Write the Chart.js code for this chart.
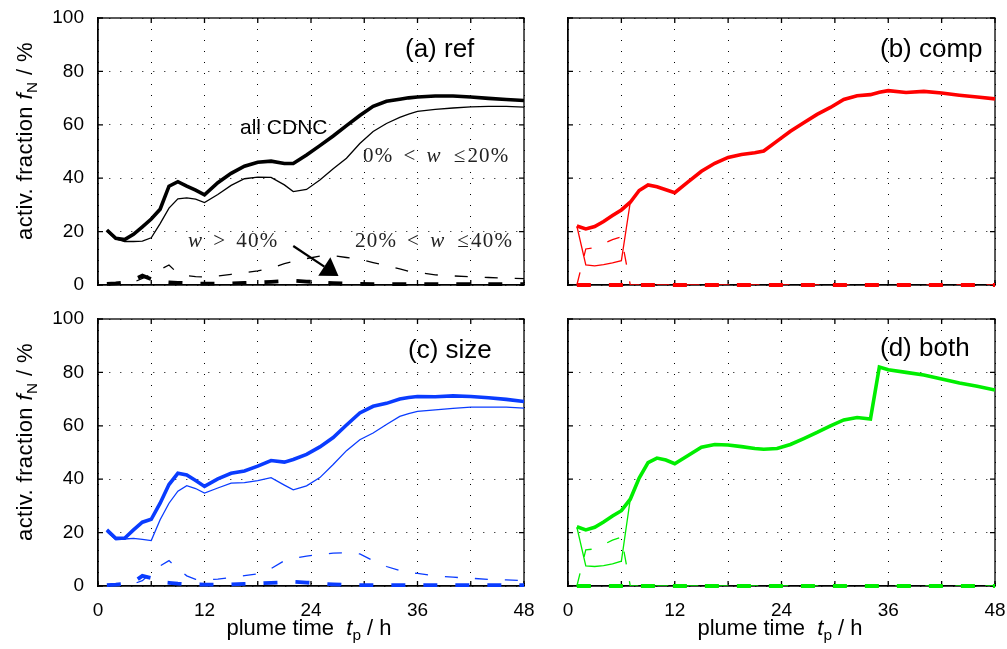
<!DOCTYPE html>
<html>
<head>
<meta charset="utf-8">
<script src="https://cdn.jsdelivr.net/npm/chart.js@4.4.0/dist/chart.umd.min.js"></script>
<style>
  body { margin: 0; background: #fff; }
  #wrap { position: relative; width: 1007px; height: 649px; overflow: hidden;
          font-family: "Liberation Sans", Arial, sans-serif; color: #000; }
  #wrap canvas { position: absolute; left: 0; top: 0; }
  .lbl { position: absolute; white-space: nowrap; line-height: 1; }
  .math { font-family: "Liberation Serif", "DejaVu Serif", serif; font-size: 21px; letter-spacing: 1.2px; color: #222; }
  .math .rel { margin: 0 10px; }
  .math .le { margin: 0 1px 0 12px; }
  .ytitle { font-size: 22px; letter-spacing: 0.4px; transform: translate(-50%, -50%) rotate(-90deg); }
  .xtitle { font-size: 22px; transform: translate(-50%, -50%); }
  .panel { font-size: 26px; transform: translateY(-50%); }
  sub { font-size: 70%; vertical-align: -0.35em; }
</style>
</head>
<body>
<div id="wrap">
  <canvas id="cA" width="1007" height="649"></canvas>
  <canvas id="cB" width="1007" height="649"></canvas>
  <canvas id="cC" width="1007" height="649"></canvas>
  <canvas id="cD" width="1007" height="649"></canvas>

  <div class="lbl ytitle" style="left:27px;top:141px;">activ. fraction <i>f</i><sub>N</sub> / %</div>
  <div class="lbl ytitle" style="left:27px;top:442px;">activ. fraction <i>f</i><sub>N</sub> / %</div>
  <div class="lbl xtitle" style="left:309px;top:630px;">plume time&nbsp; <i>t</i><sub>p</sub> / h</div>
  <div class="lbl xtitle" style="left:780px;top:630px;">plume time&nbsp; <i>t</i><sub>p</sub> / h</div>

  <div class="lbl panel" style="left:405px;top:48px;">(a) ref</div>
  <div class="lbl panel" style="left:880px;top:48px;">(b) comp</div>
  <div class="lbl panel" style="left:408px;top:349px;">(c) size</div>
  <div class="lbl panel" style="left:880px;top:347px;">(d) both</div>

  <div class="lbl" style="left:240px;top:116px;font-size:21px;">all CDNC</div>
  <div class="lbl math" style="left:363px;top:145px;">0%<span class="rel">&lt;</span><i>w</i><span class="le">≤</span>20%</div>
  <div class="lbl math" style="left:188px;top:230px;"><i>w</i><span class="rel">&gt;</span>40%</div>
  <div class="lbl math" style="left:355px;top:230px;">20%<span class="rel">&lt;</span><i>w</i><span class="le">≤</span>40%</div>
</div>

<script>
const T = [1, 2, 3, 4, 5, 6, 7, 8, 9, 10, 11, 12, 13.5, 15, 16.5, 18, 19.5, 21, 22, 23.5,
           25, 26.5, 28, 29.5, 31, 32.5, 34, 35, 36, 38, 40, 42, 44, 46, 48];

const xTicks = [0, 12, 24, 36, 48];
const yTicks = [0, 20, 40, 60, 80, 100];

// (a) ref
const refAll = [20.6, 17.5, 17, 19, 21.8, 24.7, 28.4, 37, 38.7, 37, 35.5, 33.8, 38.3, 41.8, 44.5, 46, 46.4, 45.5, 45.5, 48.7,
                52.2, 55.8, 59.7, 63.5, 66.9, 68.8, 69.6, 70.1, 70.4, 70.8, 70.8, 70.4, 69.9, 69.5, 69.1];
const refW1 = [20, 17.3, 16.3, 16.3, 16.4, 17.7, 23, 28.8, 32.3, 32.6, 32.2, 30.9, 33.9, 37.3, 39.8, 40.4, 40.3, 37.5, 35, 35.8,
               39.3, 43.5, 47.5, 53, 57.5, 60.5, 62.8, 64, 65, 65.8, 66.3, 66.7, 66.9, 66.9, 66.6];
const refW2 = [0, 0.3, 0.6, 1, 2.5, 4, 5.8, 7.5, 4.3, 3.5, 3.1, 3, 3.4, 4, 4.6, 5.3, 6.3, 8, 8.8, 9.9,
               10.8, 11, 10.3, 9.6, 8.4, 7.3, 6, 5.1, 4.7, 3.8, 3.4, 3.1, 2.8, 2.6, 2.4];
const refW3 = [0.4, 0.6, 1, 2, 3.5, 2.2, 1.2, 1, 0.8, 0.7, 0.6, 0.5, 0.5, 0.6, 0.8, 1, 1.2, 1.5, 1.6, 1.3,
               1, 0.7, 0.5, 0.4, 0.3, 0.3, 0.3, 0.3, 0.3, 0.3, 0.3, 0.3, 0.3, 0.3, 0.3];

// (b) comp
const compAll = [22.1, 21, 21.9, 23.8, 26, 28.1, 31, 35.4, 37.5, 36.8, 35.7, 34.6, 38.6, 42.6, 45.6, 47.8, 48.9, 49.5, 50.2, 53.9,
                 57.6, 60.8, 63.9, 66.5, 69.5, 70.9, 71.3, 72.2, 72.8, 72.1, 72.5, 71.9, 71.1, 70.4, 69.7];
const compW1 = [22, 7.5, 7.2, 7.6, 8.3, 9.1].concat(compAll.slice(6));
const compW2 = [0, 13.5, 14, 15.5, 17, 18, 0, 0, 0, 0, 0, 0, 0, 0, 0, 0, 0, 0, 0, 0,
                0, 0, 0, 0, 0, 0, 0, 0, 0, 0, 0, 0, 0, 0, 0];
const compW3 = [0, 0, 0, 0, 0, 0, 0, 0, 0, 0, 0, 0, 0, 0, 0, 0, 0, 0, 0, 0,
                0, 0, 0, 0, 0, 0, 0, 0, 0, 0, 0, 0, 0, 0, 0];

// (c) size
const sizeAll = [21, 17.9, 17.9, 21, 23.9, 25, 31, 38, 42.2, 41.6, 39.5, 37.3, 40.1, 42.2, 43.1, 44.9, 47, 46.4, 47.4, 49.3,
                 52.1, 55.6, 60.3, 64.8, 67.3, 68.4, 70, 70.6, 71, 70.9, 71.2, 71, 70.5, 69.9, 69.1];
const sizeW1 = [20.3, 17.3, 17.6, 17.8, 17.5, 17, 24.8, 31, 35.5, 37.6, 36.5, 34.8, 36.7, 38.5, 38.7, 39.5, 40.6, 37.8, 36, 37.5,
                40.6, 45.5, 50.7, 54.8, 57.3, 60.5, 63.5, 64.6, 65.4, 66, 66.5, 67, 67, 67, 66.6];
const sizeW2 = [0, 0.2, 0.5, 0.8, 2, 5, 7.5, 9.5, 6.5, 3.8, 2.5, 2.3, 2.6, 3.2, 3.9, 4.5, 6.5, 9.5, 10.3, 11.2,
                11.8, 12.3, 12.5, 12, 9.5, 7.3, 5.8, 5, 4.7, 3.8, 3.3, 2.9, 2.5, 2.3, 2];
const sizeW3 = [0.3, 0.5, 0.8, 1.5, 3.8, 3, 1.5, 1.2, 0.9, 0.7, 0.6, 0.5, 0.5, 0.6, 0.8, 1, 1.2, 1.4, 1.6, 1.3,
                0.9, 0.6, 0.4, 0.3, 0.3, 0.3, 0.3, 0.3, 0.3, 0.3, 0.3, 0.3, 0.3, 0.3, 0.3];

// (d) both
const bothAll = [22.2, 21, 22, 24, 26.2, 28.2, 32.5, 40.4, 46.2, 47.9, 47.2, 45.8, 48.9, 52, 53, 52.8, 52.2, 51.5, 51.2, 51.5,
                 53, 55.2, 57.5, 60, 62.2, 63.1, 62.5, 82, 81, 80, 79, 77.5, 76, 74.8, 73.4];
const bothW1 = [22, 7.5, 7.3, 7.6, 8.3, 9.3].concat(bothAll.slice(6));
const bothW2 = [0, 13.5, 13.9, 15.5, 17.2, 18.3, 0, 0, 0, 0, 0, 0, 0, 0, 0, 0, 0, 0, 0, 0,
                0, 0, 0, 0, 0, 0, 0, 0, 0, 0, 0, 0, 0, 0, 0];
const bothW3 = [0, 0, 0, 0, 0, 0, 0, 0, 0, 0, 0, 0, 0, 0, 0, 0, 0, 0, 0, 0,
                0, 0, 0, 0, 0, 0, 0, 0, 0, 0, 0, 0, 0, 0, 0];

// arrow in panel (a), in data units
const arrowFrom = [22, 14.6];
const arrowTo = [27.1, 3.4];

const FONT = '"Liberation Sans", Arial, sans-serif';
const W = 1007, H = 649;

const pts = vals => vals.map((v, i) => ({ x: T[i], y: v }));

// box + inward tick marks, drawn under the curves
const framePlugin = {
    id: 'frame',
    beforeDatasetsDraw(chart) {
        const { ctx, chartArea: a, scales: { x, y } } = chart;
        ctx.save();
        ctx.strokeStyle = '#000';
        ctx.lineWidth = 1.3;
        ctx.strokeRect(a.left, a.top, a.right - a.left, a.bottom - a.top);
        ctx.beginPath();
        x.ticks.forEach(t => {
            const px = x.getPixelForValue(t.value);
            ctx.moveTo(px, a.bottom); ctx.lineTo(px, a.bottom - 5);
            ctx.moveTo(px, a.top); ctx.lineTo(px, a.top + 5);
        });
        y.ticks.forEach(t => {
            const py = y.getPixelForValue(t.value);
            ctx.moveTo(a.left, py); ctx.lineTo(a.left + 5, py);
            ctx.moveTo(a.right, py); ctx.lineTo(a.right - 5, py);
        });
        ctx.stroke();
        ctx.restore();
    }
};

const arrowPlugin = {
    id: 'arrow',
    afterDatasetsDraw(chart, args, opts) {
        if (!opts.show) return;
        const { ctx, scales: { x, y } } = chart;
        const x0 = x.getPixelForValue(arrowFrom[0]), y0 = y.getPixelForValue(arrowFrom[1]);
        const x1 = x.getPixelForValue(arrowTo[0]), y1 = y.getPixelForValue(arrowTo[1]);
        const len = Math.hypot(x1 - x0, y1 - y0);
        const ux = (x1 - x0) / len, uy = (y1 - y0) / len;
        const hl = 17, hw = 11;
        const bx = x1 - ux * hl, by = y1 - uy * hl;
        ctx.save();
        ctx.strokeStyle = '#000';
        ctx.fillStyle = '#000';
        ctx.lineWidth = 2.2;
        ctx.beginPath();
        ctx.moveTo(x0, y0);
        ctx.lineTo(bx, by);
        ctx.stroke();
        ctx.beginPath();
        ctx.moveTo(x1, y1);
        ctx.lineTo(bx - uy * hw, by + ux * hw);
        ctx.lineTo(bx + uy * hw, by - ux * hw);
        ctx.closePath();
        ctx.fill();
        ctx.restore();
    }
};

function makePanel(id, area, color, series, showX, showY, arrow) {
    const XH = showX ? 40 : 0;
    const datasets = [
        { data: pts(series[0]), borderColor: color, borderWidth: 3.6 },
        { data: pts(series[1]), borderColor: color, borderWidth: 1.3 },
        { data: pts(series[2]), borderColor: color, borderWidth: 1.3, borderDash: [13, 17] },
        { data: pts(series[3]), borderColor: color, borderWidth: 3.8, borderDash: [14, 18], clip: false }
    ].map(d => Object.assign(d, { pointRadius: 0, tension: 0, fill: false, borderCapStyle: 'butt' }));

    return new Chart(document.getElementById(id), {
        type: 'line',
        data: { datasets },
        plugins: [framePlugin, arrowPlugin],
        options: {
            responsive: false,
            animation: false,
            events: [],
            layout: { padding: { left: 0, top: area.t, right: W - area.r, bottom: H - area.b - XH } },
            plugins: {
                legend: { display: false },
                tooltip: { enabled: false },
                arrow: { show: !!arrow }
            },
            scales: {
                x: {
                    type: 'linear', min: 0, max: 48,
                    afterBuildTicks: s => { s.ticks = [6, 18, 30, 42].concat(xTicks).sort((a, b) => a - b).map(v => ({ value: v })); },
                    ticks: {
                        display: showX, autoSkip: false, maxRotation: 0, padding: 13,
                        color: '#000', font: { size: 19, family: FONT },
                        callback: v => xTicks.includes(v) ? String(v) : ''
                    },
                    grid: { color: '#000', lineWidth: 1, drawTicks: false },
                    border: { display: true, color: '#000', width: 1.3, dash: [1, 10] },
                    afterFit: s => { s.height = XH; s.paddingLeft = 0; s.paddingRight = 0; }
                },
                y: {
                    type: 'linear', min: 0, max: 100,
                    afterBuildTicks: s => { s.ticks = yTicks.map(v => ({ value: v })); },
                    ticks: {
                        display: showY, padding: 14,
                        color: '#000', font: { size: 19, family: FONT }
                    },
                    grid: { color: '#000', lineWidth: 1, drawTicks: false },
                    border: { display: true, color: '#000', width: 1.3, dash: [1, 10] },
                    afterFit: s => { s.width = area.l; s.paddingTop = 0; s.paddingBottom = 0; }
                }
            }
        }
    });
}

const topRow = { t: 18, b: 285 };
const botRow = { t: 319, b: 586 };
const leftCol = { l: 98, r: 524 };
const rightCol = { l: 568, r: 995 };

makePanel('cA', Object.assign({}, leftCol, topRow), '#000000', [refAll, refW1, refW2, refW3], false, true, true);
makePanel('cB', Object.assign({}, rightCol, topRow), '#ff0000', [compAll, compW1, compW2, compW3], false, false, false);
makePanel('cC', Object.assign({}, leftCol, botRow), '#0a3cff', [sizeAll, sizeW1, sizeW2, sizeW3], true, true, false);
makePanel('cD', Object.assign({}, rightCol, botRow), '#00ee00', [bothAll, bothW1, bothW2, bothW3], true, false, false);
</script>
</body>
</html>
